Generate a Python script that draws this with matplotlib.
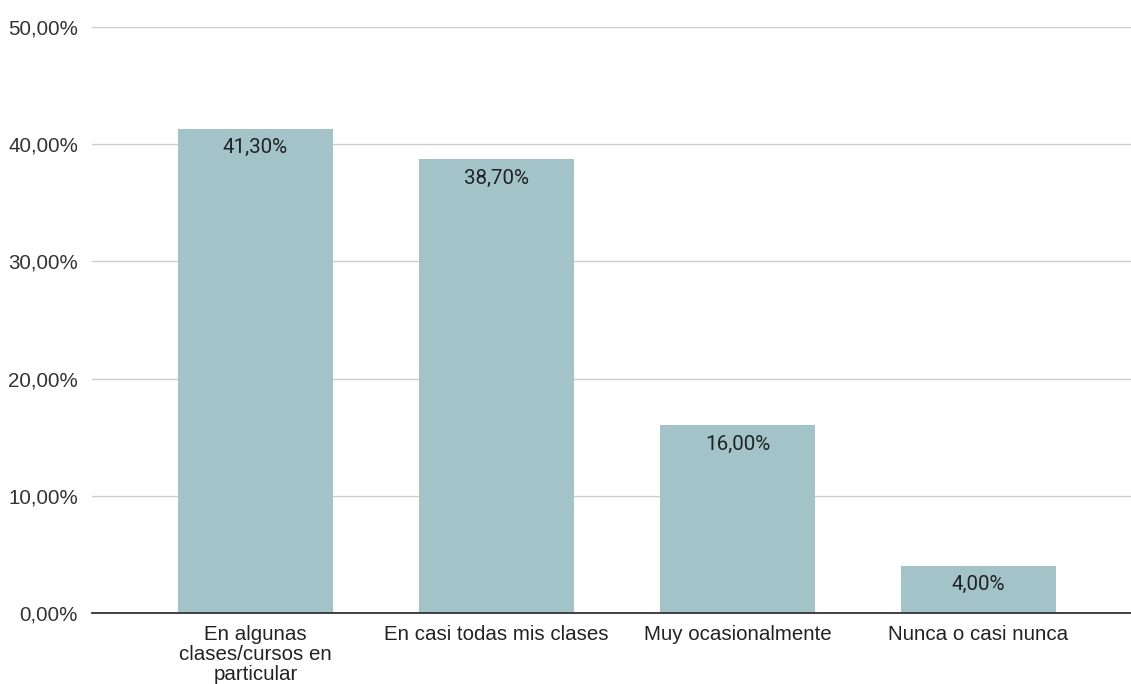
import matplotlib
matplotlib.use("Agg")
from matplotlib import pyplot as plt
from matplotlib.ticker import FuncFormatter

categories = ["En algunas\nclases/cursos en\nparticular", "En casi todas mis clases",
              "Muy ocasionalmente", "Nunca o casi nunca"]
values = [41.3, 38.7, 16.0, 4.0]
labels = ["41,30%", "38,70%", "16,00%", "4,00%"]
yticks = [0, 10, 20, 30, 40, 50]

plt.rcParams["font.family"] = ["Liberation Sans", "DejaVu Sans"]

W, H = 1131, 684
fig = plt.figure(figsize=(W / 100, H / 100), dpi=100)
ax = fig.add_axes([92 / W, (H - 613) / H, (W - 92) / W, (613 - 27) / H])

x = range(len(categories))
bars = ax.bar(x, values, width=0.643, color="#a2c4c9", zorder=2)

for b, lab in zip(bars, labels):
    ax.annotate(lab, (b.get_x() + b.get_width() / 2, b.get_height()),
                xytext=(0, -6.5), textcoords="offset points",
                ha="center", va="top", fontsize=14.8, color="#222222",
                family=["Roboto", "DejaVu Sans"])

ax.set_xlim(-0.678, 3.633)
ax.set_ylim(0, 50)
ax.set_yticks(yticks)
ax.yaxis.set_major_formatter(FuncFormatter(lambda v, p: f"{v:.2f}%".replace(".", ",")))
ax.set_xticks(list(x))
ax.set_xticklabels(categories, fontsize=14.8, color="#222222", linespacing=1.08)
ax.tick_params(axis="y", labelsize=14.8, labelcolor="#333333", length=0, pad=10)
ax.tick_params(axis="x", length=0, pad=8.5)

ax.grid(axis="y", color="#cccccc", linewidth=1, zorder=0)
for s in ["top", "right", "left"]:
    ax.spines[s].set_visible(False)
ax.spines["bottom"].set_color("#333333")
ax.spines["bottom"].set_linewidth(1.3)
ax.spines["bottom"].set_zorder(3)

fig.savefig("out.png", dpi=100)
